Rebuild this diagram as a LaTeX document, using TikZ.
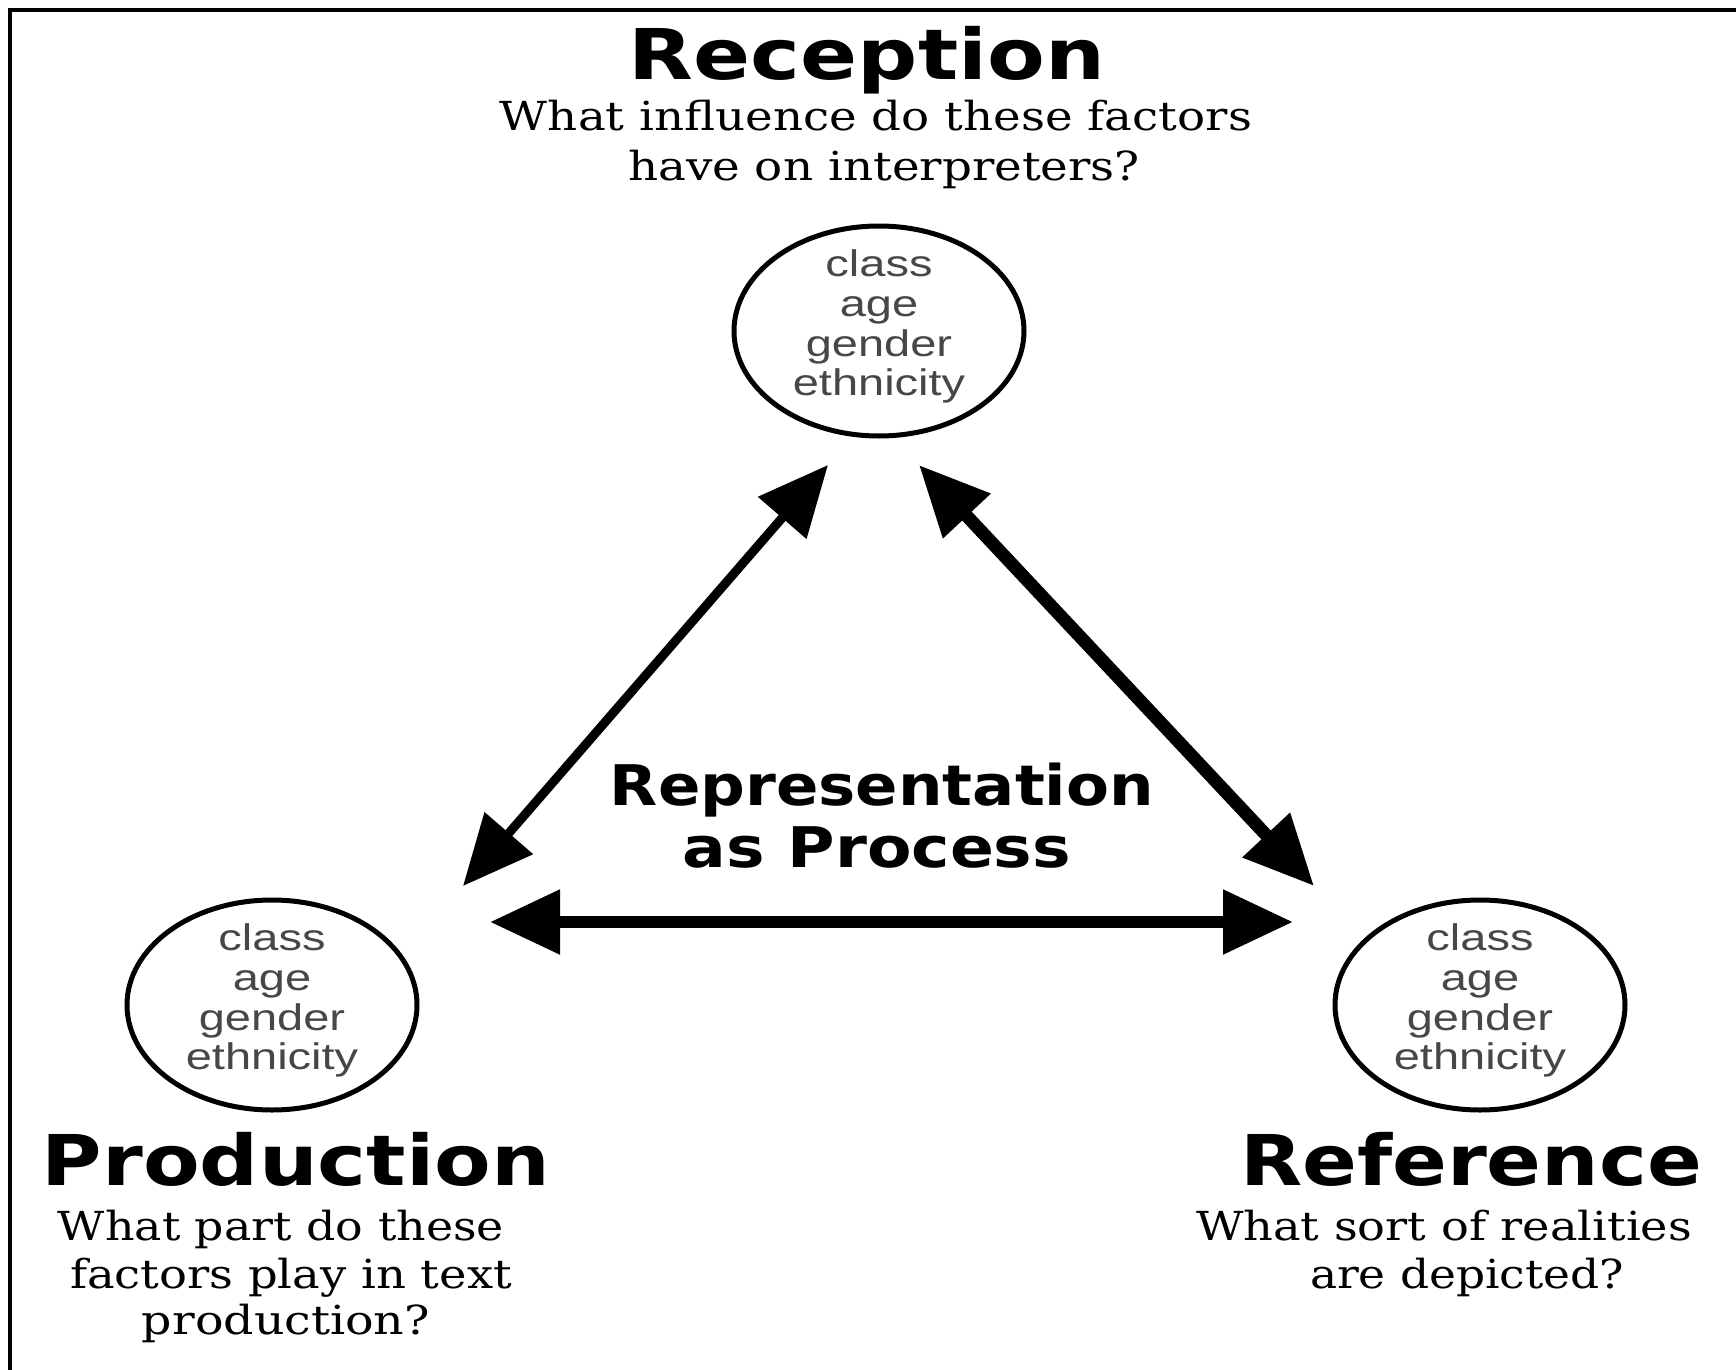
\documentclass[tikz,border=0pt]{standalone}
\usepackage{fontspec}
\setmainfont{DejaVu Serif}
\newfontfamily\titlef{DejaVu Sans}
\newfontfamily\factf{Liberation Sans}
\usetikzlibrary{arrows.meta,shapes.geometric}
\newcommand{\fitw}[2]{\resizebox{#1}{\height}{#2}}
\newcommand{\wf}[1]{\scalebox{1.27}[1]{#1}}
\newcommand{\factors}[3]{%
  \node[ring] (#1) at (#2,#3) {};
  \node[factor] (#1-a) at ([yshift=27.5pt]#1.center) {\wf{class}};
  \node[factor] (#1-b) at ([yshift=7.5pt]#1.center) {\wf{age}};
  \node[factor] (#1-c) at ([yshift=-12.5pt]#1.center) {\wf{gender}};
  \node[factor] (#1-d) at ([yshift=-32pt]#1.center) {\wf{ethnicity}};
}
\begin{document}
\begin{tikzpicture}[x=0.5pt,y=-0.5pt,
  title/.style={anchor=base, inner sep=0pt, font=\titlef\bfseries\fontsize{35}{40}\selectfont},
  centre/.style={anchor=base, inner sep=0pt, font=\titlef\bfseries\fontsize{28}{32}\selectfont},
  question/.style={anchor=base, inner sep=0pt, font=\fontsize{20}{24}\selectfont},
  factor/.style={anchor=base, inner sep=0pt, text=black!72, font=\factf\fontsize{18.5}{20}\selectfont},
  ring/.style={draw, ellipse, line width=2.5pt, minimum width=145pt, minimum height=105pt, inner sep=0pt},
  link/.style={{Triangle[length=35pt,width=31pt]}-{Triangle[length=35pt,width=31pt]}},
]
\useasboundingbox (0,0) rectangle (1736,1370);
\fill[white] (0,0) rectangle (1736,1370);
% frame (top and left edges only)
\draw[line width=2.3pt] (1740,10) -- (10,10) -- (10,1375);

% Reception
\node[title] (rectitle) at (867,80) {\fitw{238pt}{Reception}};
\node[question] (recq1) at (876,131) {\fitw{376pt}{What influence do these factors}};
\node[question] (recq2) at (884,181) {\fitw{256pt}{have on interpreters?}};
\factors{rec}{879}{331}

% Production
\factors{prod}{272}{1005}
\node[title] (prodtitle) at (296,1185) {\fitw{254pt}{Production}};
\node[question] (prodq1) at (281,1240) {\fitw{223pt}{What part do these}};
\node[question] (prodq2) at (291,1288) {\fitw{221pt}{factors play in text}};
\node[question] (prodq3) at (286,1334) {\fitw{144pt}{production?}};

% Reference
\factors{ref}{1480}{1005}
\node[title] (reftitle) at (1471,1185) {\fitw{231pt}{Reference}};
\node[question] (refq1) at (1444,1240) {\fitw{248pt}{What sort of realities}};
\node[question] (refq2) at (1467,1288) {\fitw{157pt}{are depicted?}};

% centre label
\node[centre] (rep1) at (882,805) {\fitw{272pt}{Representation}};
\node[centre] (rep2) at (877,867) {\fitw{194pt}{as Process}};

% arrow end points
\coordinate (lt) at (828,465);
\coordinate (lb) at (463,886);
\coordinate (rt) at (919,465);
\coordinate (rb) at (1314,886);
\coordinate (hl) at (490,922);
\coordinate (hr) at (1293,922);

\draw[link, line width=4.5pt] (lb) -- (lt);
\draw[link, line width=6.5pt] (rt) -- (rb);
\draw[link, line width=6pt] (hl) -- (hr);
\end{tikzpicture}
\end{document}
